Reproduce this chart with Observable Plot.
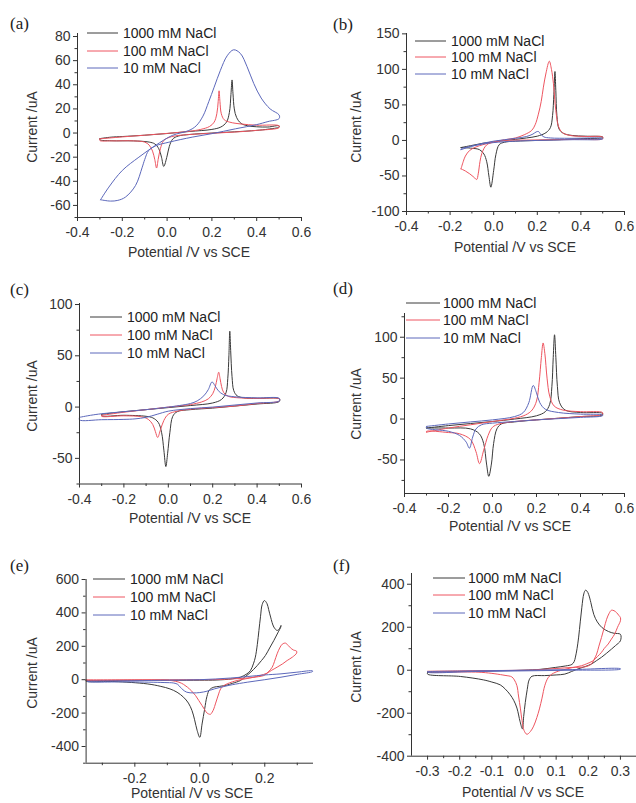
<!DOCTYPE html>
<html><head><meta charset="utf-8">
<script src="https://cdn.jsdelivr.net/npm/d3@7"></script>
<script src="https://cdn.jsdelivr.net/npm/@observablehq/plot@0.6"></script>
<style>
html,body{margin:0;padding:0;background:#fff;}
#fig{position:relative;width:636px;height:803px;overflow:hidden;background:#fff;}
.panel{position:absolute;}
.panel svg{overflow:visible;}
</style></head><body><div id="fig"></div>
<script>
const seriesNames = ["1000 mM NaCl", "100 mM NaCl", "10 mM NaCl"];
const seriesColors = ["#3a3a3a", "#ee5560", "#5c68bb"];
const panelLetters = ["(a)", "(b)", "(c)", "(d)", "(e)", "(f)"];
const xTitle = "Potential /V vs SCE";
const yTitle = "Current /uA";

// tick values
const xTicksAD = [-0.4, -0.2, 0, 0.2, 0.4, 0.6];
const xMinorAD = [-0.3, -0.1, 0.1, 0.3, 0.5];
const xTicksE = [-0.2, 0, 0.2];
const xMinorE = [-0.3, -0.1, 0.1, 0.3];
const xTicksF = [-0.3, -0.2, -0.1, 0, 0.1, 0.2, 0.3];
const xMinorF = [-0.25, -0.15, -0.05, 0.05, 0.15, 0.25];
const yTicksA = [-60, -40, -20, 0, 20, 40, 60, 80];
const yMinorA = [-70, -50, -30, -10, 10, 30, 50, 70];
const yTicksB = [-100, -50, 0, 50, 100, 150];
const yMinorB = [-75, -25, 25, 75, 125];
const yTicksC = [-50, 0, 50, 100];
const yMinorC = [-75, -25, 25, 75];
const yTicksD = [-50, 0, 50, 100];
const yMinorD = [-75, -25, 25, 75, 125];
const yTicksE = [-400, -200, 0, 200, 400, 600];
const yMinorE = [-500, -300, -100, 100, 300, 500];
const yTicksF = [-400, -200, 0, 200, 400];
const yMinorF = [-300, -100, 100, 300];

// (a) [potential V, current uA]
const a1000 = [[-0.30,-4.6],[-0.25,-3.4],[-0.2,-2.9],[-0.1,-1.8],[0.0,-0.4],[0.1,1.3],[0.2,3],[0.24,5],[0.265,9],[0.278,17],[0.285,32],[0.29,44],[0.294,33],[0.3,20],[0.31,13],[0.33,8],[0.36,6],[0.4,5.2],[0.45,5],[0.5,6],
  [0.5,5],[0.45,3.2],[0.4,2.2],[0.3,1],[0.2,0],[0.1,-1.2],[0.05,-2.5],[0.025,-5],[0.01,-11],[0.0,-19],[-0.015,-27.7],[-0.025,-20],[-0.037,-13],[-0.055,-9],[-0.08,-7.5],[-0.15,-6.5],[-0.25,-6.4],[-0.3,-5.6],[-0.30,-4.6]];
const a100 = [[-0.3,-4.8],[-0.2,-3.2],[-0.1,-1.8],[0.0,-0.3],[0.1,1.5],[0.15,3],[0.19,5.5],[0.21,9],[0.222,16],[0.228,26],[0.232,35],[0.236,26],[0.242,16],[0.255,11],[0.28,9],[0.33,7.5],[0.4,6.5],[0.5,6],
  [0.5,4.5],[0.4,2.2],[0.3,0.8],[0.2,-0.2],[0.1,-1.2],[0.02,-3],[-0.015,-6.2],[-0.03,-13],[-0.04,-22],[-0.047,-29],[-0.055,-22],[-0.065,-15],[-0.08,-10],[-0.1,-7.5],[-0.15,-6.5],[-0.25,-6.5],[-0.3,-6.2],[-0.3,-4.8]];
const a10 = [[-0.297,-55.3],[-0.26,-44.8],[-0.2,-31],[-0.126,-20],[-0.052,-10.3],[0.023,-2],[0.097,2.1],[0.13,6],[0.16,14],[0.186,26],[0.21,38],[0.238,52],[0.268,64],[0.297,69],[0.327,66],[0.357,55],[0.387,41],[0.42,29],[0.46,20],[0.5,15],
  [0.5,12],[0.45,9.5],[0.4,7],[0.305,3.5],[0.2,-0.5],[0.112,-3.4],[0.008,-7.6],[-0.05,-10.5],[-0.082,-14.4],[-0.1,-22],[-0.111,-28.3],[-0.141,-43.5],[-0.186,-53.1],[-0.22,-55.8],[-0.253,-56.4],[-0.297,-55.3]];

// (b)
const b1000 = [[-0.15,-10],[-0.1,-7],[-0.05,-4],[0.0,-2],[0.05,0],[0.1,1.5],[0.15,3.5],[0.2,6],[0.24,11],[0.26,18],[0.27,35],[0.276,65],[0.281,97],[0.285,70],[0.29,35],[0.3,16],[0.32,10],[0.36,7],[0.42,6],[0.5,5],
  [0.5,4],[0.4,2.5],[0.3,1],[0.2,0],[0.1,-1],[0.05,-2.5],[0.025,-6],[0.01,-20],[0.0,-42],[-0.013,-65.8],[-0.022,-50],[-0.032,-30],[-0.045,-19],[-0.065,-13],[-0.1,-11],[-0.15,-10]];
const b100 = [[-0.15,-40],[-0.14,-30],[-0.13,-22],[-0.11,-14],[-0.08,-9],[-0.05,-6],[0.0,-2],[0.05,1],[0.1,3.5],[0.14,8],[0.174,14],[0.19,22],[0.205,37],[0.218,55],[0.228,75],[0.24,95],[0.255,111.5],[0.265,100],[0.274,80],[0.28,58],[0.285,42],[0.297,20],[0.315,11],[0.35,7],[0.42,5.6],[0.5,4.7],
  [0.5,2.3],[0.4,1.5],[0.266,1],[0.15,0.5],[0.05,0],[0.006,-2.3],[-0.025,-4.7],[-0.04,-9],[-0.055,-18.8],[-0.063,-30],[-0.071,-47],[-0.078,-55],[-0.09,-52],[-0.11,-47],[-0.13,-43],[-0.15,-40]];
const b10 = [[-0.15,-13],[-0.1,-8],[-0.05,-4],[0.0,-1],[0.05,1],[0.1,3],[0.15,5.5],[0.18,9],[0.195,12],[0.205,12.6],[0.215,9],[0.23,5],[0.26,3.5],[0.35,3],[0.5,2.8],
  [0.5,2],[0.35,1],[0.2,0],[0.1,-1],[0.0,-3],[-0.05,-5],[-0.1,-8],[-0.15,-12],[-0.15,-13]];

// (c)
const c1000 = [[-0.3,-7],[-0.2,-4.5],[-0.1,-2.5],[0.0,-0.5],[0.1,1.5],[0.2,4],[0.24,7.5],[0.26,14],[0.268,28],[0.273,50],[0.277,74],[0.281,55],[0.287,30],[0.295,16],[0.31,11],[0.34,9],[0.4,8.5],[0.5,8],
  [0.5,5.5],[0.4,3],[0.3,1],[0.2,-1],[0.1,-2.5],[0.04,-4.5],[0.02,-9],[0.007,-25],[-0.003,-45],[-0.011,-58],[-0.02,-42],[-0.03,-25],[-0.045,-15],[-0.07,-10.5],[-0.1,-9],[-0.2,-8],[-0.3,-8.5],[-0.3,-7]];
const c100 = [[-0.3,-8],[-0.2,-5],[-0.1,-2.5],[0.0,0],[0.1,2.5],[0.15,5],[0.18,8],[0.2,13],[0.212,20],[0.22,28],[0.227,34],[0.233,28],[0.24,20],[0.25,14],[0.27,10.5],[0.32,9],[0.4,8.5],[0.5,8],
  [0.5,6],[0.4,3.5],[0.3,1],[0.2,-0.5],[0.1,-2],[0.04,-4],[0.0,-7],[-0.02,-13],[-0.035,-22],[-0.048,-29.6],[-0.058,-24],[-0.07,-17],[-0.09,-12],[-0.12,-9.5],[-0.2,-8.5],[-0.3,-9],[-0.3,-8]];
const c10 = [[-0.4,-10],[-0.35,-8],[-0.3,-6.5],[-0.2,-4.5],[-0.1,-2.5],[0.0,0],[0.05,1.5],[0.1,3.5],[0.13,6],[0.16,11],[0.18,17],[0.197,24.5],[0.21,21],[0.225,16],[0.25,12],[0.3,10],[0.4,9],[0.5,8.5],
  [0.5,6],[0.4,4],[0.3,2],[0.2,0],[0.1,-1.5],[0.0,-4],[-0.05,-7],[-0.1,-10],[-0.15,-11.5],[-0.2,-12],[-0.3,-12.3],[-0.4,-12.5],[-0.4,-10]];

// (d)
const d1000 = [[-0.3,-11],[-0.2,-8],[-0.1,-5.5],[0,-3],[0.1,0],[0.2,4],[0.24,9],[0.26,18],[0.27,40],[0.276,75],[0.282,103],[0.288,75],[0.295,40],[0.305,20],[0.33,11],[0.4,8],[0.5,7],
  [0.5,5],[0.4,3],[0.3,1],[0.2,-1],[0.1,-3.5],[0.04,-6],[0.02,-12],[0.005,-30],[-0.005,-55],[-0.017,-70],[-0.027,-55],[-0.04,-30],[-0.06,-18],[-0.1,-12],[-0.2,-11],[-0.3,-11]];
const d100 = [[-0.3,-16],[-0.2,-11],[-0.1,-7],[0,-3],[0.1,1],[0.15,5],[0.18,11],[0.2,22],[0.212,45],[0.222,75],[0.23,93],[0.238,80],[0.248,50],[0.26,28],[0.28,16],[0.32,11],[0.4,9],[0.5,8],
  [0.5,6],[0.4,3],[0.3,1],[0.2,-1],[0.1,-3],[0.03,-6],[0.0,-10],[-0.02,-20],[-0.04,-38],[-0.059,-54.5],[-0.075,-40],[-0.1,-25],[-0.15,-18],[-0.2,-16.5],[-0.3,-15],[-0.3,-16]];
const d10 = [[-0.3,-9],[-0.2,-6],[-0.1,-3.5],[0,-1],[0.1,3],[0.14,8],[0.165,20],[0.185,41],[0.2,32],[0.215,20],[0.24,12],[0.3,8],[0.4,6],[0.5,5],
  [0.5,4],[0.4,2],[0.3,0.5],[0.2,-1],[0.1,-3],[0.0,-5],[-0.05,-7],[-0.075,-12],[-0.09,-22],[-0.105,-35.6],[-0.12,-28],[-0.15,-20],[-0.2,-15],[-0.3,-11],[-0.3,-9]];

// (e)
const e1000 = [[-0.35,-5],[-0.2,-4],[0.0,-3],[0.05,-2],[0.1,5],[0.125,15],[0.145,35],[0.156,55],[0.165,95],[0.171,135],[0.177,210],[0.182,295],[0.187,380],[0.192,450],[0.199,474],[0.207,455],[0.212,420],[0.218,375],[0.228,315],[0.238,295],[0.245,305],[0.25,325],
  [0.25,319],[0.24,280],[0.228,235],[0.215,190],[0.202,145],[0.19,115],[0.177,85],[0.165,60],[0.151,35],[0.138,15],[0.125,-5],[0.1,-22],[0.084,-32],[0.06,-40],[0.043,-45],[0.03,-60],[0.022,-100],[0.015,-175],[0.007,-265],[0.0,-345],[-0.008,-305],[-0.016,-240],[-0.024,-185],[-0.035,-140],[-0.05,-105],[-0.07,-75],[-0.092,-55],[-0.12,-40],[-0.162,-25],[-0.264,-11],[-0.35,-9],[-0.35,-5]];
const e100 = [[-0.35,-1],[-0.2,-1],[0.0,0],[0.05,1],[0.1,5],[0.146,10],[0.18,18],[0.197,25],[0.21,45],[0.223,75],[0.23,110],[0.238,155],[0.246,190],[0.254,213],[0.264,219],[0.272,205],[0.279,191],[0.288,178],[0.298,171],
  [0.298,159],[0.285,135],[0.269,115],[0.255,95],[0.238,75],[0.22,55],[0.207,39],[0.185,25],[0.166,15],[0.14,5],[0.115,-5],[0.1,-13],[0.084,-25],[0.072,-38],[0.064,-55],[0.058,-85],[0.053,-115],[0.048,-145],[0.043,-175],[0.038,-195],[0.033,-207],[0.027,-205],[0.022,-199],[0.015,-180],[0.007,-155],[-0.003,-125],[-0.013,-95],[-0.025,-68],[-0.038,-45],[-0.05,-28],[-0.064,-15],[-0.085,-6],[-0.11,-2],[-0.2,-2],[-0.35,-2],[-0.35,-1]];
const e10 = [[-0.346,-9],[-0.2,-6],[-0.1,-3],[0.0,0],[0.095,10],[0.197,28],[0.25,35],[0.299,45],[0.347,53],
  [0.347,49],[0.3,32],[0.25,15],[0.2,0],[0.146,-15],[0.1,-30],[0.074,-41],[0.045,-55],[0.022,-69],[0.0,-77],[-0.019,-79],[-0.04,-75],[-0.052,-60],[-0.06,-45],[-0.068,-28],[-0.08,-20],[-0.11,-17],[-0.213,-13],[-0.346,-11],[-0.346,-9]];

// (f)
const f1000 = [[-0.3,-10],[-0.2,-6],[-0.1,-3],[0.0,0],[0.05,4],[0.0975,13],[0.13,20],[0.149,27],[0.156,40],[0.16,61],[0.165,100],[0.17,154],[0.175,225],[0.18,293],[0.186,355],[0.191,372],[0.196,368],[0.201,353],[0.208,315],[0.217,260],[0.228,225],[0.243,198],[0.263,180],[0.28,172],[0.3,167],
  [0.3,137],[0.285,115],[0.272,98],[0.256,78],[0.241,60],[0.225,44],[0.21,29],[0.19,17],[0.168,6],[0.148,-6],[0.127,-18],[0.1,-22],[0.064,-25],[0.025,-28],[0.016,-45],[0.01,-90],[0.004,-150],[-0.001,-215],[-0.005,-273],[-0.012,-240],[-0.022,-176],[-0.032,-140],[-0.043,-114],[-0.058,-88],[-0.074,-68],[-0.1,-55],[-0.126,-45],[-0.198,-29],[-0.3,-18],[-0.3,-10]];
const f100 = [[-0.3,-5],[-0.2,-3],[-0.1,-1.5],[0.0,0],[0.05,3],[0.1,8],[0.149,13],[0.19,16],[0.21,29],[0.218,50],[0.226,75],[0.233,112],[0.241,152],[0.249,195],[0.257,237],[0.265,265],[0.272,279],[0.28,277],[0.288,268],[0.295,255],[0.3,245],
  [0.3,230],[0.291,200],[0.282,168],[0.272,145],[0.262,122],[0.25,102],[0.241,83],[0.228,63],[0.215,44],[0.195,30],[0.179,21],[0.15,12],[0.13,5],[0.1,-8],[0.085,-20],[0.075,-35],[0.065,-70],[0.056,-130],[0.048,-180],[0.04,-220],[0.03,-260],[0.02,-285],[0.009,-298],[0.0,-280],[-0.006,-235],[-0.011,-180],[-0.017,-120],[-0.022,-72],[-0.03,-45],[-0.038,-31],[-0.059,-24],[-0.131,-10],[-0.3,-6],[-0.3,-5]];
const f10 = [[-0.3,-6],[-0.15,-3],[0.0,0],[0.15,3],[0.3,7],
  [0.3,5],[0.15,0],[0.0,-3],[-0.15,-6],[-0.3,-9],[-0.3,-6]];

// layout: panel-local pixel positions
const panels = [
  {left:0, top:0, w:318, h:265, ml:77, mr:17, mt:33, mb:48, xd:[-0.4,0.6], yd:[-70,82.5], xt:xTicksAD, xm:xMinorAD, yt:yTicksA, ym:yMinorA, curves:[a1000,a100,a10],
   letter:[10,29], xTitle:[189,257], yTitle:[32,127], leg:{x1:87, x2:118, tx:123, rows:[33,51,68]}},
  {left:318, top:0, w:318, h:265, ml:88, mr:12, mt:33, mb:54, xd:[-0.4,0.6], yd:[-100,150.5], xt:xTicksAD, xm:xMinorAD, yt:yTicksB, ym:yMinorB, curves:[b1000,b100,b10],
   letter:[15,29.5], xTitle:[197,252], yTitle:[38,127], leg:{x1:97, x2:128, tx:133, rows:[41,57,74]}},
  {left:0, top:265, w:318, h:265, ml:79, mr:17, mt:38, mb:46.5, xd:[-0.4,0.6], yd:[-75,101], xt:xTicksAD, xm:xMinorAD, yt:yTicksC, ym:yMinorC, curves:[c1000,c100,c10],
   letter:[10,30], xTitle:[190,258], yTitle:[32,131], leg:{x1:90, x2:122, tx:127, rows:[52,70,88]}},
  {left:318, top:265, w:318, h:265, ml:86, mr:12, mt:48, mb:37, xd:[-0.4,0.6], yd:[-91,129], xt:xTicksAD, xm:xMinorAD, yt:yTicksD, ym:yMinorD, curves:[d1000,d100,d10],
   letter:[15,28.5], xTitle:[192,266], yTitle:[38,139], leg:{x1:88, x2:122, tx:125, rows:[38,55,73]}},
  {left:0, top:530, w:318, h:273, ml:85.6, mr:5, mt:49, mb:40.3, xd:[-0.35,0.35], yd:[-500,600], xt:xTicksE, xm:xMinorE, yt:yTicksE, ym:yMinorE, curves:[e1000,e100,e10],
   letter:[10,41], xTitle:[192,268], yTitle:[32,143], leg:{x1:93, x2:125, tx:130, rows:[49,67,85]}},
  {left:318, top:530, w:318, h:273, ml:93, mr:0, mt:43, mb:47.3, xd:[-0.35,0.35], yd:[-400,450], xt:xTicksF, xm:xMinorF, yt:yTicksF, ym:yMinorF, curves:[f1000,f100,f10],
   letter:[15,40.5], xTitle:[205,267], yTitle:[38,137], leg:{x1:115, x2:147, tx:150, rows:[48,65,83]}}
];

const sans = "'Liberation Sans', Arial, sans-serif";
const serif = "'Liberation Serif', 'Times New Roman', serif";
const fig = document.getElementById("fig");

panels.forEach((p, pi) => {
  const data = p.curves.flatMap((c, si) => c.map(([E, I]) => ({E, I, s: seriesNames[si]})));
  const svg = Plot.plot({
    width: p.w, height: p.h,
    marginLeft: p.ml, marginRight: p.mr, marginTop: p.mt, marginBottom: p.mb,
    style: {fontFamily: sans, fontSize: "14px", color: "#333", background: "transparent", overflow: "visible"},
    x: {domain: p.xd, label: null},
    y: {domain: p.yd, label: null},
    color: {domain: seriesNames, range: seriesColors},
    marks: [
      Plot.line(data, {x: "E", y: "I", z: "s", stroke: "s", strokeWidth: 1, curve: "catmull-rom"}),
      Plot.ruleX([p.xd[0]], {stroke: "#333", strokeWidth: 1}),
      Plot.ruleY([p.yd[0]], {stroke: "#333", strokeWidth: 1}),
      Plot.axisX({ticks: p.xt, tickSize: 4, tickPadding: 6, tickFormat: d => d.toFixed(1), fontSize: 14, label: null}),
      Plot.axisX({ticks: p.xm, tickSize: 2.5, tickFormat: () => "", label: null}),
      Plot.axisY({ticks: p.yt, tickSize: 4, tickPadding: 3, tickFormat: d => String(d), fontSize: 14, label: null}),
      Plot.axisY({ticks: p.ym, tickSize: 2.5, tickFormat: () => "", label: null})
    ]
  });
  const s = d3.select(svg);
  s.append("text").attr("x", p.letter[0]).attr("y", p.letter[1]).attr("text-anchor", "start")
    .attr("font-family", serif).attr("font-size", 17).attr("fill", "#222").text(panelLetters[pi]);
  s.append("text").attr("x", p.xTitle[0]).attr("y", p.xTitle[1]).attr("text-anchor", "middle")
    .attr("font-family", sans).attr("font-size", 14).attr("fill", "#333").text(xTitle);
  s.append("text").attr("transform", `translate(${p.yTitle[0]},${p.yTitle[1]}) rotate(-90)`)
    .attr("text-anchor", "middle").attr("dy", "0.35em")
    .attr("font-family", sans).attr("font-size", 14).attr("fill", "#333").text(yTitle);
  const g = s.append("g");
  seriesNames.forEach((name, si) => {
    const y = p.leg.rows[si];
    g.append("line").attr("x1", p.leg.x1).attr("x2", p.leg.x2).attr("y1", y).attr("y2", y)
      .attr("stroke", seriesColors[si]).attr("stroke-width", 1);
    g.append("text").attr("x", p.leg.tx).attr("y", y).attr("dy", "0.35em").attr("text-anchor", "start")
      .attr("font-family", sans).attr("font-size", 14).attr("fill", "#222").text(name);
  });
  const div = document.createElement("div");
  div.className = "panel";
  div.style.left = p.left + "px";
  div.style.top = p.top + "px";
  div.style.width = p.w + "px";
  div.style.height = p.h + "px";
  div.appendChild(svg);
  fig.appendChild(div);
});
</script>
</body></html>
